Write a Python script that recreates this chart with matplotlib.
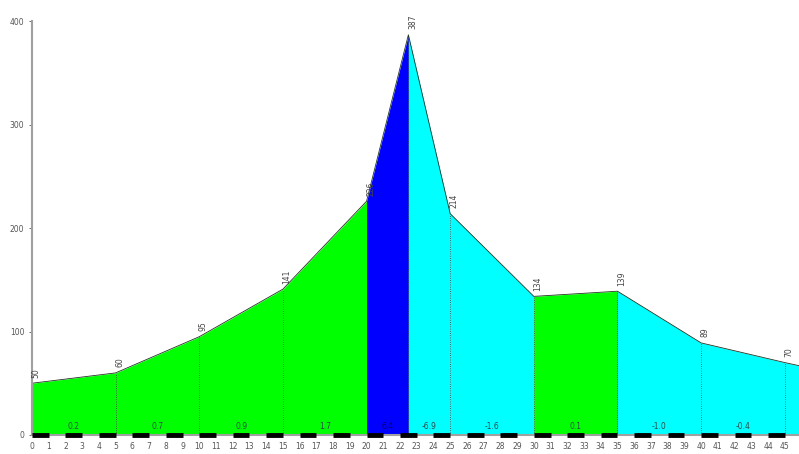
import matplotlib
matplotlib.use("Agg")
import matplotlib.pyplot as plt
import numpy as np

# profile points: distance (km) and elevation (m)
dist = [0, 5, 10, 15, 20, 22.5, 25, 30, 35, 40, 45, 45.85]
elev = [50, 60, 95, 141, 226, 387, 214, 134, 139, 89, 70, 67]
labelled = 11  # first 11 points carry an elevation label

x_ticks = list(range(0, 46))
y_ticks = [0, 100, 200, 300, 400]


def seg_color(slope):
    if slope < 0:
        return "#00ffff"
    if slope > 5:
        return "#0000ff"
    return "#00ff00"


def plot_profile():
    fig = plt.figure(figsize=(7.99, 4.54), dpi=100)
    ax = fig.add_axes([0.040, 0.042, 0.960, 0.911])

    d = np.array(dist)
    e = np.array(elev)

    # coloured fill, one segment at a time
    for i in range(len(d) - 1):
        slope = (e[i + 1] - e[i]) / (d[i + 1] - d[i]) / 10
        ax.fill_between(d[i:i + 2], 0, e[i:i + 2], color=seg_color(slope),
                        linewidth=0)
    ax.plot(d, e, color="#223322", lw=0.6)

    # vertical markers and elevation labels
    for i in range(labelled):
        ax.plot([d[i], d[i]], [0, e[i]], color="#333333", lw=0.6, ls=":")
        ax.annotate(str(e[i]), (d[i], e[i]), xytext=(3, 4),
                    textcoords="offset points", rotation=90, ha="center",
                    va="bottom", fontsize=5.5, color="#444444")

    # gradient labels (%) per segment
    for i in range(labelled - 1):
        slope = (e[i + 1] - e[i]) / (d[i + 1] - d[i]) / 10
        col = "#000060" if slope > 5 else "#2d4a4a"
        ax.text((d[i] + d[i + 1]) / 2, 4, "%.1f" % slope, ha="center",
                va="bottom", fontsize=5.5, color=col)

    # black / white kilometre bar along the axis
    for k in range(0, 46, 2):
        ax.plot([k, min(k + 1, d[-1])], [0, 0], color="black", lw=3.5,
                solid_capstyle="butt", clip_on=False, zorder=5)

    ax.set_xlim(0, d[-1])
    ax.set_ylim(0, 400)
    ax.set_xticks(x_ticks)
    ax.set_yticks(y_ticks)
    ax.tick_params(axis="both", labelsize=5.5, colors="#555555", length=2,
                   width=0.6)
    ax.tick_params(axis="x", length=0, pad=5)
    for s in ["top", "right"]:
        ax.spines[s].set_visible(False)
    ax.spines["left"].set_color("#a0a0a0")
    ax.spines["left"].set_linewidth(1.5)
    ax.spines["bottom"].set_color("#a0a0a0")
    ax.spines["bottom"].set_linewidth(1.5)

    fig.savefig("out.png", dpi=100)


if __name__ == "__main__":
    plot_profile()
